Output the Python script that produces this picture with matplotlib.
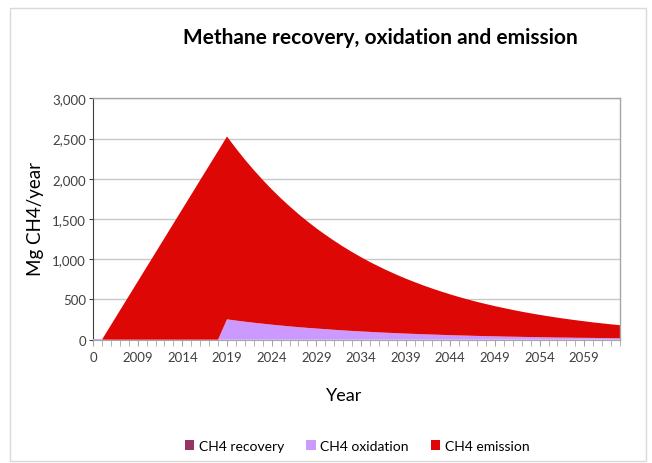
import matplotlib.pyplot as plt
from matplotlib.patches import Rectangle
from matplotlib.ticker import FuncFormatter

# categories: first cell is "0", then years 2005..2063
years = ["0"] + [str(y) for y in range(2005, 2064)]

recovery = [0] * 60

oxidation = [0] * 15 + [
    253, 238, 224, 211, 199, 187, 176, 166, 156, 147,
    139, 131, 123, 116, 109, 103, 97, 91, 86, 81,
    76, 72, 67, 64, 60, 56, 53, 50, 47, 44,
    42, 39, 37, 35, 33, 31, 29, 27, 26, 24,
    23, 22, 20, 19, 18,
]

emission = [
    0, 0, 180, 361, 541, 721, 902, 1082, 1262, 1443,
    1623, 1803, 1984, 2164, 2344,
    2272, 2140, 2015, 1898, 1787, 1683, 1585, 1493, 1406, 1324,
    1246, 1174, 1106, 1041, 981, 923, 869, 819, 771, 726,
    684, 644, 607, 571, 538, 507, 477, 449, 423, 399,
    375, 354, 333, 313, 295, 278, 262, 247, 232, 219,
    206, 193, 183, 172, 162,
]

series_names = ["CH4 recovery", "CH4 oxidation", "CH4 emission"]
series_colors = ["#993366", "#cc99ff", "#dd0806"]

plt.rcParams["font.family"] = ["Lato", "DejaVu Sans"]


def main():
    fig = plt.figure(figsize=(6.52, 4.64), dpi=100)
    ax = fig.add_axes([93 / 652, 1 - 340.7 / 464, 527 / 652, 241.4 / 464])

    x = list(range(len(years)))
    ax.stackplot(x, recovery, oxidation, emission,
                 colors=series_colors, labels=series_names, linewidth=0)
    # thin purple line along the zero baseline like the original
    ax.plot(x[:2], [0, 0], color=series_colors[1], lw=1.2, zorder=3)

    ax.set_xlim(0, len(years) - 1)
    ax.set_ylim(0, 3000)
    ax.set_yticks(range(0, 3001, 500))
    ax.yaxis.set_major_formatter(FuncFormatter(lambda v, p: f"{int(v):,}"))
    ax.set_xticks(x[::5])
    ax.set_xticklabels(years[::5])
    ax.set_xticks(x, minor=True)

    ax.grid(axis="y", color="#c8c8c8", lw=1)
    ax.set_axisbelow(True)
    for side in ["top", "right"]:
        ax.spines[side].set_color("#a6a6a6")
        ax.spines[side].set_linewidth(1)
    ax.spines["left"].set_color("#404040")
    ax.spines["bottom"].set_color("#a6a6a6")

    ax.tick_params(axis="y", length=3, color="#404040", labelsize=9.5,
                   labelcolor="#404040", pad=2)
    ax.tick_params(axis="x", which="both", length=4, color="#a6a6a6",
                   labelsize=9.5, labelcolor="#404040", pad=4)

    fig.text(380 / 652, 1 - 38 / 464, "Methane recovery, oxidation and emission",
             ha="center", va="center", fontsize=15, fontweight="bold")
    fig.text(35 / 652, 1 - 219 / 464, "Mg CH4/year", rotation=90,
             ha="center", va="center", fontsize=13.5)
    fig.text(344 / 652, 1 - 396 / 464, "Year", ha="center", va="center",
             fontsize=13)

    fig.legend(loc="center", bbox_to_anchor=(357 / 652, 1 - 447 / 464),
               ncol=3, frameon=False, fontsize=10, handlelength=0.7,
               handleheight=0.7, handletextpad=0.3, columnspacing=1.6)

    fig.patches.append(Rectangle((10 / 652, 2 / 464), 636 / 652, 453 / 464,
                                 transform=fig.transFigure, fill=False,
                                 edgecolor="#d9d9d9", lw=1))

    fig.savefig("out.png", dpi=100)


if __name__ == "__main__":
    main()
